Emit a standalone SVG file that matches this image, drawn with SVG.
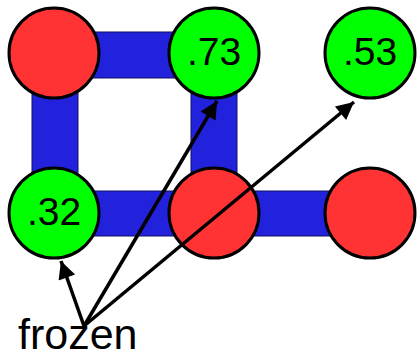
<svg xmlns="http://www.w3.org/2000/svg" width="417" height="358" viewBox="0 0 417 358">
<defs>
<style>
.bar{fill:#2222dd;stroke:#101060;stroke-width:1}
.red{fill:#ff3333;stroke:#000;stroke-width:3}
.green{fill:#00ff00;stroke:#000;stroke-width:3}
.num{font-family:"Liberation Sans",Arial,sans-serif;font-size:39px;fill:#000;text-anchor:middle}
.lbl{font-family:"Liberation Sans",Arial,sans-serif;font-size:43px;fill:#000}
.arr{stroke:#000;stroke-width:3.5;fill:none;marker-end:url(#ah)}
</style>
<marker id="ah" viewBox="0 0 10 10" refX="10" refY="5" markerWidth="6.5" markerHeight="5" markerUnits="strokeWidth" orient="auto">
<path d="M0,0 L10,5 L0,10 z" fill="#000"/>
</marker>
</defs>
<g id="edges">
<rect class="bar" x="54" y="32" width="159" height="46"/>
<rect class="bar" x="32" y="53" width="46" height="160"/>
<rect class="bar" x="191" y="53" width="46" height="160"/>
<rect class="bar" x="54" y="191" width="316" height="45"/>
</g>
<g id="n1"><circle class="red" cx="54" cy="53" r="45"/></g>
<g id="n2"><circle class="green" cx="214" cy="53" r="45"/><text class="num" x="214" y="65">.73</text></g>
<g id="n3"><circle class="green" cx="370" cy="53" r="45"/><text class="num" x="370" y="65">.53</text></g>
<g id="n4"><circle class="green" cx="54" cy="213" r="45"/><text class="num" x="54" y="225">.32</text></g>
<g id="n5"><circle class="red" cx="214" cy="213" r="45"/></g>
<g id="n6"><circle class="red" cx="370" cy="213" r="45"/></g>
<g id="connectors">
<line class="arr" x1="84" y1="326" x2="61" y2="261"/>
<line class="arr" x1="84" y1="326" x2="217" y2="101"/>
<line class="arr" x1="84" y1="326" x2="354" y2="102"/>
</g>
<g id="label"><text class="lbl" x="18" y="349">frozen</text></g>
</svg>
